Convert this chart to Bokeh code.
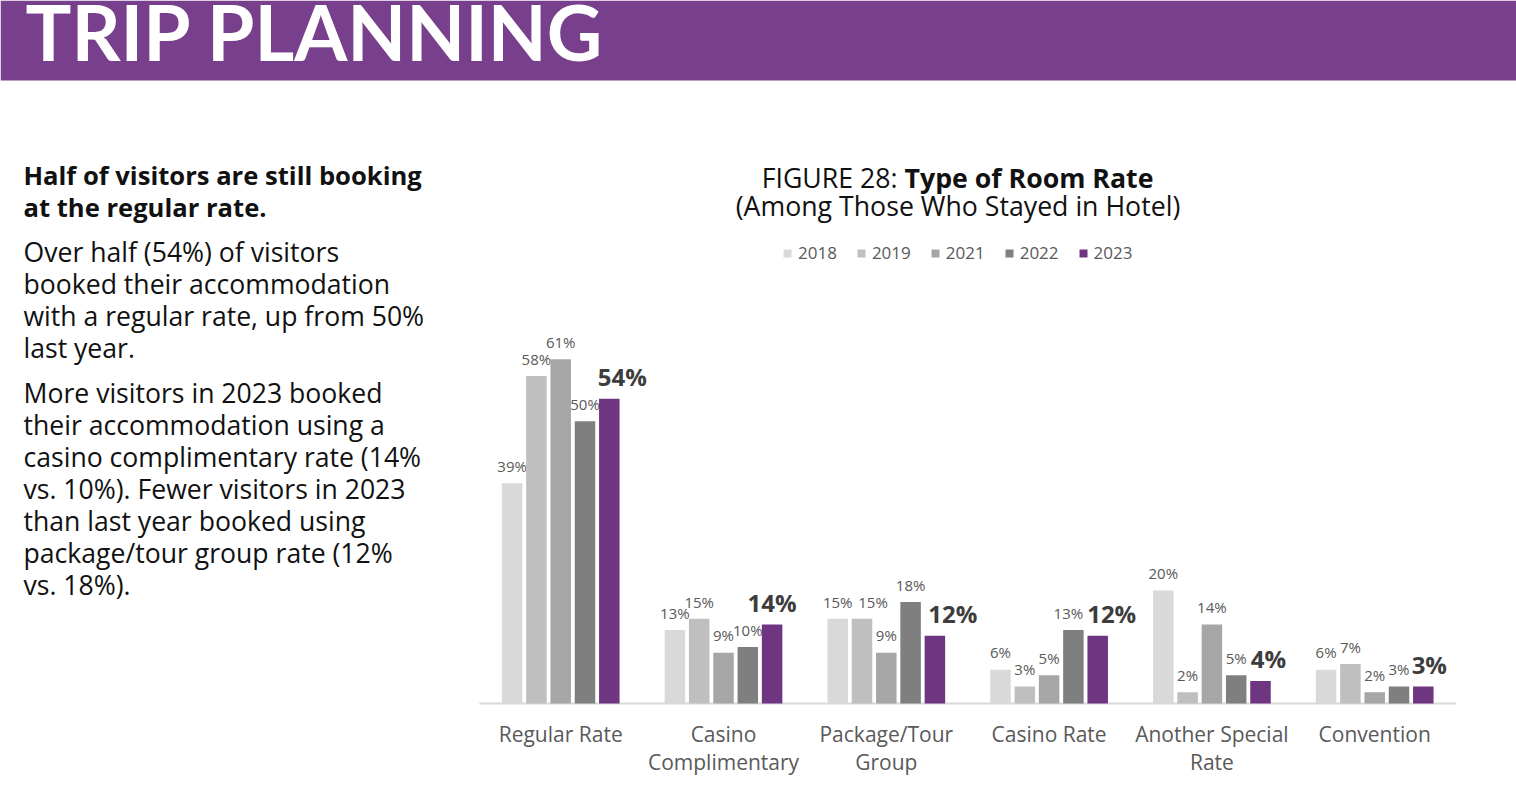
import numpy as np
from bokeh.plotting import figure
from bokeh.models import Range1d, FixedTicker, Label, BoxAnnotation, Legend, LegendItem, ColumnDataSource
from bokeh.core.properties import value
from bokeh.embed import file_html
from bokeh.resources import INLINE

# ---------------- data ----------------
categories = ["Regular Rate", "Casino\nComplimentary", "Package/Tour\nGroup",
              "Casino Rate", "Another Special\nRate", "Convention"]
years = ["2018", "2019", "2021", "2022", "2023"]
v2018 = [39, 13, 15, 6, 20, 6]
v2019 = [58, 15, 15, 3, 2, 7]
v2021 = [61, 9, 9, 5, 14, 2]
v2022 = [50, 10, 18, 13, 5, 3]
v2023 = [54, 14, 12, 12, 4, 3]
series = [v2018, v2019, v2021, v2022, v2023]

header_text = "TRIP PLANNING"
title_a = "FIGURE 28:"
title_b = "Type of Room Rate"
subtitle = "(Among Those Who Stayed in Hotel)"
lead_lines = ["Half of visitors are still booking", "at the regular rate."]
para1_lines = ["Over half (54%) of visitors", "booked their accommodation",
               "with a regular rate, up from 50%", "last year."]
para2_lines = ["More visitors in 2023 booked", "their accommodation using a",
               "casino complimentary rate (14%", "vs. 10%). Fewer visitors in 2023",
               "than last year booked using", "package/tour group rate (12%", "vs. 18%)."]

# ---------------- styles / layout ----------------
colors = ["#d9d9d9", "#bfbfbf", "#a6a6a6", "#7f7f7f", "#6e3581"]
header_color = "#773f8c"
W, H = 1516, 810
FRAME_BOTTOM = 705
BORDER_BOTTOM = H - FRAME_BOTTOM
PX_PER_PCT = 5.645
GROUP_PITCH = 162.8
GROUP0_X = 560.2
BAR_STEP = 24.3 / GROUP_PITCH
BAR_W = 20.5 / GROUP_PITCH
BASE_K = 0.35  # baseline correction factor (fraction of font size)
# label pixel nudges (style only)
label_dx = [[0, 0, 0, 0, 0, 0],
            [0, 0, 11, 0, 0, 0],
            [0, 0, 0, 0, 0, 0],
            [0, 0, 0, -5, 0, 0],
            [13, 0, 18, 14, 8, 6]]
FONT = "Open Sans"


def sy(baseline, size):
    return FRAME_BOTTOM - (baseline - BASE_K * size)


x_start = -GROUP0_X / GROUP_PITCH
x_end = x_start + W / GROUP_PITCH
y_start = -(FRAME_BOTTOM - 703) / PX_PER_PCT
y_end = y_start + FRAME_BOTTOM / PX_PER_PCT

p = figure(width=W, height=H, output_backend="svg", toolbar_location=None,
           x_range=Range1d(x_start, x_end), y_range=Range1d(y_start, y_end),
           y_axis_location=None, min_border_left=0, min_border_right=0,
           min_border_top=0, min_border_bottom=BORDER_BOTTOM)
p.grid.visible = False
p.outline_line_color = None
p.background_fill_color = "white"
p.border_fill_color = "white"

# header
p.add_layout(BoxAnnotation(bottom=FRAME_BOTTOM - 80, bottom_units="screen", fill_color=header_color,
                           fill_alpha=1.0, line_color=None, level="underlay"))
p.add_layout(Label(x=25, y=sy(57, 76.5), x_units="screen", y_units="screen", text=header_text,
                   text_font="Lato", text_font_style="bold", text_font_size="76.5px",
                   text_color="white", text_baseline="alphabetic"))

# left text
for i, t in enumerate(lead_lines):
    p.add_layout(Label(x=23, y=sy(184 + 32 * i, 25.6), x_units="screen", y_units="screen", text=t,
                       text_font=FONT, text_font_style="bold", text_font_size="25.6px",
                       text_color="#111111", text_baseline="alphabetic"))
for i, t in enumerate(para1_lines):
    p.add_layout(Label(x=23, y=sy(261 + 32 * i, 26.6), x_units="screen", y_units="screen", text=t,
                       text_font=FONT, text_font_size="26.6px",
                       text_color="#111111", text_baseline="alphabetic"))
for i, t in enumerate(para2_lines):
    p.add_layout(Label(x=23, y=sy(402 + 32 * i, 26.6), x_units="screen", y_units="screen", text=t,
                       text_font=FONT, text_font_size="26.6px",
                       text_color="#111111", text_baseline="alphabetic"))

# chart title
p.add_layout(Label(x=897, y=sy(186, 26.7), x_units="screen", y_units="screen", text=title_a,
                   text_font=FONT, text_font_size="26.7px", text_color="#111111",
                   text_align="right", text_baseline="alphabetic"))
p.add_layout(Label(x=904, y=sy(186, 26.7), x_units="screen", y_units="screen", text=title_b,
                   text_font=FONT, text_font_style="bold", text_font_size="26.7px",
                   text_color="#111111", text_align="left", text_baseline="alphabetic"))
p.add_layout(Label(x=957.5, y=sy(214, 26.7), x_units="screen", y_units="screen", text=subtitle,
                   text_font=FONT, text_font_size="26.7px", text_color="#111111",
                   text_align="center", text_baseline="alphabetic"))

# baseline
p.segment(x0=[-0.5], y0=[0], x1=[len(categories) - 0.5], y1=[0], line_color="#d9d9d9", line_width=2)

# bars
idx = np.arange(len(categories))
items = []
for j, (yr, vals) in enumerate(zip(years, series)):
    xs = idx + (j - 2) * BAR_STEP
    src = ColumnDataSource(dict(x=xs, top=vals, lab=[f"{v}%" for v in vals], dx=label_dx[j]))
    r = p.vbar(x="x", top="top", width=BAR_W, source=src, fill_color=colors[j], line_color=None)
    items.append(LegendItem(label=yr, renderers=[r]))
    bold = (j == 4)
    p.text(x="x", y="top", text="lab", source=src, x_offset="dx",
           y_offset=-(14 + BASE_K * 24) if bold else -(12 + BASE_K * 15),
           text_align="center", text_baseline="alphabetic", text_font=value(FONT),
           text_font_style="bold" if bold else "normal",
           text_font_size="24px" if bold else "15px",
           text_color="#3d3d3d" if bold else "#595959")

legend = Legend(items=items, orientation="horizontal", location=(782, FRAME_BOTTOM - 264),
                glyph_width=10, glyph_height=10, label_standoff=6, spacing=19,
                padding=0, margin=0, border_line_color=None, background_fill_alpha=0,
                label_text_font=FONT, label_text_font_size="17px", label_text_color="#595959")
p.add_layout(legend)

# x axis
ax = p.xaxis[0]
ax.ticker = FixedTicker(ticks=list(range(len(categories))))
ax.major_label_overrides = {i: c for i, c in enumerate(categories)}
ax.axis_line_color = None
ax.major_tick_line_color = None
ax.minor_tick_line_color = None
ax.major_label_standoff = 8
ax.major_label_text_line_height = 1.0
ax.major_label_text_font = FONT
ax.major_label_text_font_size = "21px"
ax.major_label_text_color = "#595959"

open("out.html", "w").write(file_html(p, INLINE))
